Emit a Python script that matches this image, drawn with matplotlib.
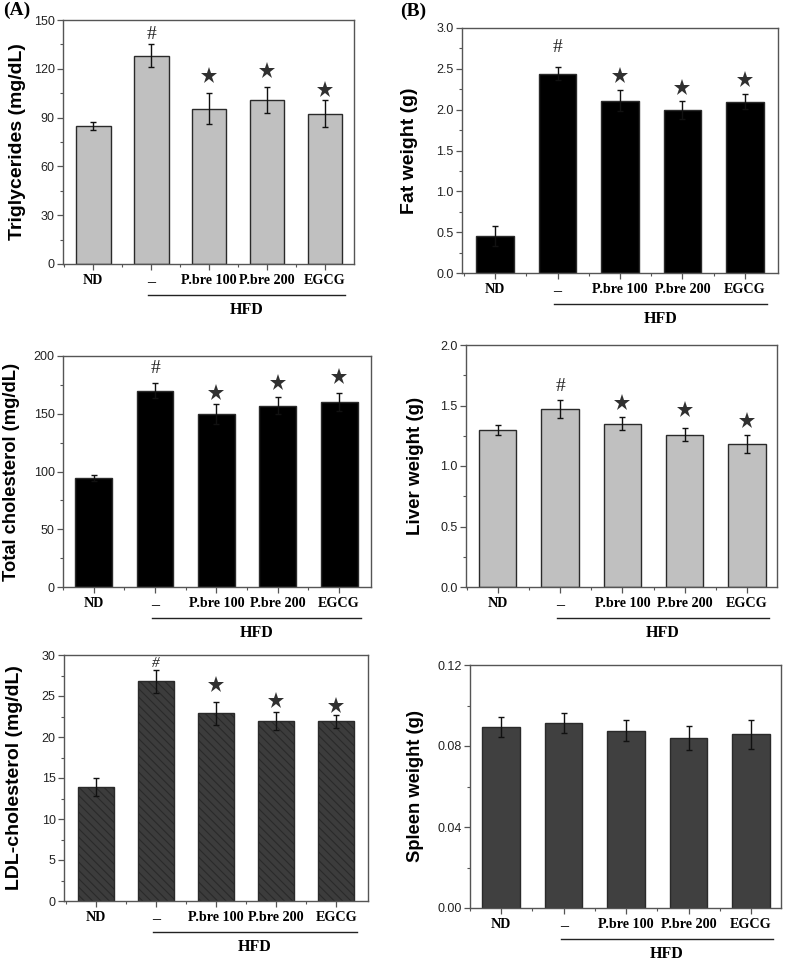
import matplotlib
matplotlib.use("Agg")
import matplotlib.pyplot as plt
from matplotlib.ticker import MultipleLocator, FormatStrFormatter
import matplotlib.transforms as mtrans

plt.rcParams['hatch.linewidth'] = 0.8

categories = ["ND", "\u2013", "P.bre 100", "P.bre 200", "EGCG"]

tg_mean = [85, 128, 95.5, 101, 92.5]
tg_err = [2.5, 7, 9.5, 8, 8.4]
tg_marks = ["", "#", "*", "*", "*"]
tg_mark_y = [0, 141, 115.6, 118.7, 107]

tc_mean = [94.5, 170, 150, 157, 160]
tc_err = [2.3, 6.5, 8.6, 7.5, 7.7]
tc_marks = ["", "#", "*", "*", "*"]
tc_mark_y = [0, 189, 168, 177, 181.5]

ldl_mean = [13.9, 26.8, 22.9, 21.9, 21.9]
ldl_err = [1.1, 1.4, 1.4, 1.1, 0.8]
ldl_marks = ["", "#", "*", "*", "*"]
ldl_mark_y = [0, 29.0, 26.4, 24.4, 23.8]

fat_mean = [0.45, 2.44, 2.11, 2.00, 2.10]
fat_err = [0.12, 0.08, 0.13, 0.11, 0.09]
fat_marks = ["", "#", "*", "*", "*"]
fat_mark_y = [0, 2.76, 2.41, 2.27, 2.36]

liver_mean = [1.30, 1.47, 1.35, 1.26, 1.18]
liver_err = [0.04, 0.075, 0.055, 0.055, 0.075]
liver_marks = ["", "#", "*", "*", "*"]
liver_mark_y = [0, 1.66, 1.52, 1.46, 1.37]

spleen_mean = [0.0893, 0.0912, 0.0876, 0.0838, 0.0857]
spleen_err = [0.005, 0.005, 0.005, 0.006, 0.007]
spleen_marks = ["", "", "", "", ""]
spleen_mark_y = [0, 0, 0, 0, 0]

W, H = 787, 965
fig = plt.figure(figsize=(W / 100, H / 100), dpi=100)

SANS = ['Liberation Sans', 'DejaVu Sans']
SERIF = ['Liberation Serif', 'DejaVu Serif']


def make_axes(l, t, r, b):
    return fig.add_axes([l / W, 1 - b / H, (r - l) / W, (b - t) / H])


def panel(box, means, errs, marks, mark_y, ylim, major, minor, fmt, ylabel,
          label_x_px, label_size, xlim, color, hatch=None, hash_style='normal',
          hash_size=14):
    l, t, r, b = box
    ax = make_axes(l, t, r, b)
    x = list(range(len(categories)))
    ax.bar(x, means, width=0.6, color=color, edgecolor='#2a2a2a', linewidth=1.0,
           hatch=hatch, zorder=2)
    ax.errorbar(x, means, yerr=errs, fmt='none', ecolor='#111111', elinewidth=1.0,
                capsize=2.5, capthick=1.0, zorder=3)
    for xi, m, my in zip(x, marks, mark_y):
        if m == "*":
            ax.plot([xi], [my], marker='*', markersize=12.5, color='#303030',
                    markeredgewidth=0, zorder=4, clip_on=False)
        elif m == "#":
            ax.text(xi, my, "#", ha='center', va='center', fontsize=hash_size,
                    family=SERIF, style=hash_style, color='#222222')
    ax.set_xlim(*xlim)
    ax.set_ylim(*ylim)
    ax.yaxis.set_major_locator(MultipleLocator(major))
    ax.yaxis.set_minor_locator(MultipleLocator(minor))
    ax.yaxis.set_major_formatter(FormatStrFormatter(fmt))
    ax.set_xticks(x)
    ax.set_xticks([xi + 0.5 for xi in x[:-1]] + [-0.5], minor=True)
    ax.set_xticklabels(categories, family=SERIF, fontweight='bold', fontsize=10.2)
    ax.get_xticklabels()[1].set_fontsize(11.5)
    for lab in ax.get_yticklabels():
        lab.set_family(SANS)
        lab.set_fontsize(9)
        lab.set_color('#222222')
    ax.tick_params(axis='both', which='major', direction='out', length=4,
                   width=0.9, color='#555555')
    ax.tick_params(axis='both', which='minor', direction='out', length=2.5,
                   width=0.8, color='#555555')
    ax.tick_params(axis='x', which='major', pad=3)
    ax.tick_params(axis='y', which='major', pad=2)
    for s in ax.spines.values():
        s.set_color('#555555')
        s.set_linewidth(1.0)
    ax.set_ylabel(ylabel, family=SANS, fontweight='bold', fontsize=label_size,
                  va='center')
    ax.yaxis.set_label_coords((label_x_px - l) / (r - l), 0.5)
    # HFD bracket line and label
    hgt = b - t
    trans = mtrans.blended_transform_factory(ax.transData, ax.transAxes)
    ax.plot([0.95, 4.35], [-31 / hgt, -31 / hgt], transform=trans, color='#222222',
            linewidth=1.0, clip_on=False)
    ax.text(2.65, -46 / hgt, "HFD", transform=trans, ha='center', va='center',
            family=SERIF, fontweight='bold', fontsize=11.5)
    return ax


panel((63, 20, 354, 264), tg_mean, tg_err, tg_marks, tg_mark_y, (0, 150), 30, 15,
      '%d', 'Triglycerides (mg/dL)', 17, 14, (-0.52, 4.5), '#c0c0c0')
panel((63, 356, 371, 587), tc_mean, tc_err, tc_marks, tc_mark_y, (0, 200), 50, 25,
      '%d', 'Total cholesterol (mg/dL)', 12, 13.2, (-0.49, 4.52), '#000000')
panel((64, 655, 368, 901), ldl_mean, ldl_err, ldl_marks, ldl_mark_y, (0, 30), 5, 2.5,
      '%d', 'LDL-cholesterol (mg/dL)', 15, 14, (-0.53, 4.53), '#3c3c3c', hatch='\\\\\\\\',
      hash_style='italic', hash_size=11)
panel((462, 28, 778, 273), fat_mean, fat_err, fat_marks, fat_mark_y, (0, 3.0), 0.5, 0.25,
      '%.1f', 'Fat weight (g)', 410, 14, (-0.53, 4.53), '#000000')
panel((466, 345, 777, 587), liver_mean, liver_err, liver_marks, liver_mark_y, (0, 2.0), 0.5,
      0.25, '%.1f', 'Liver weight (g)', 416, 13.5, (-0.51, 4.48), '#c0c0c0')
panel((470, 665, 781, 908), spleen_mean, spleen_err, spleen_marks, spleen_mark_y, (0, 0.12),
      0.04, 0.02, '%.2f', 'Spleen weight (g)', 416, 13.2, (-0.5, 4.48), '#404040')

fig.text(3 / W, 1 - 10 / H, "(A)", family=SERIF, fontweight='bold', fontsize=14,
         ha='left', va='center')
fig.text(400 / W, 1 - 11 / H, "(B)", family=SERIF, fontweight='bold', fontsize=14,
         ha='left', va='center')

fig.savefig("out.png", dpi=100)
